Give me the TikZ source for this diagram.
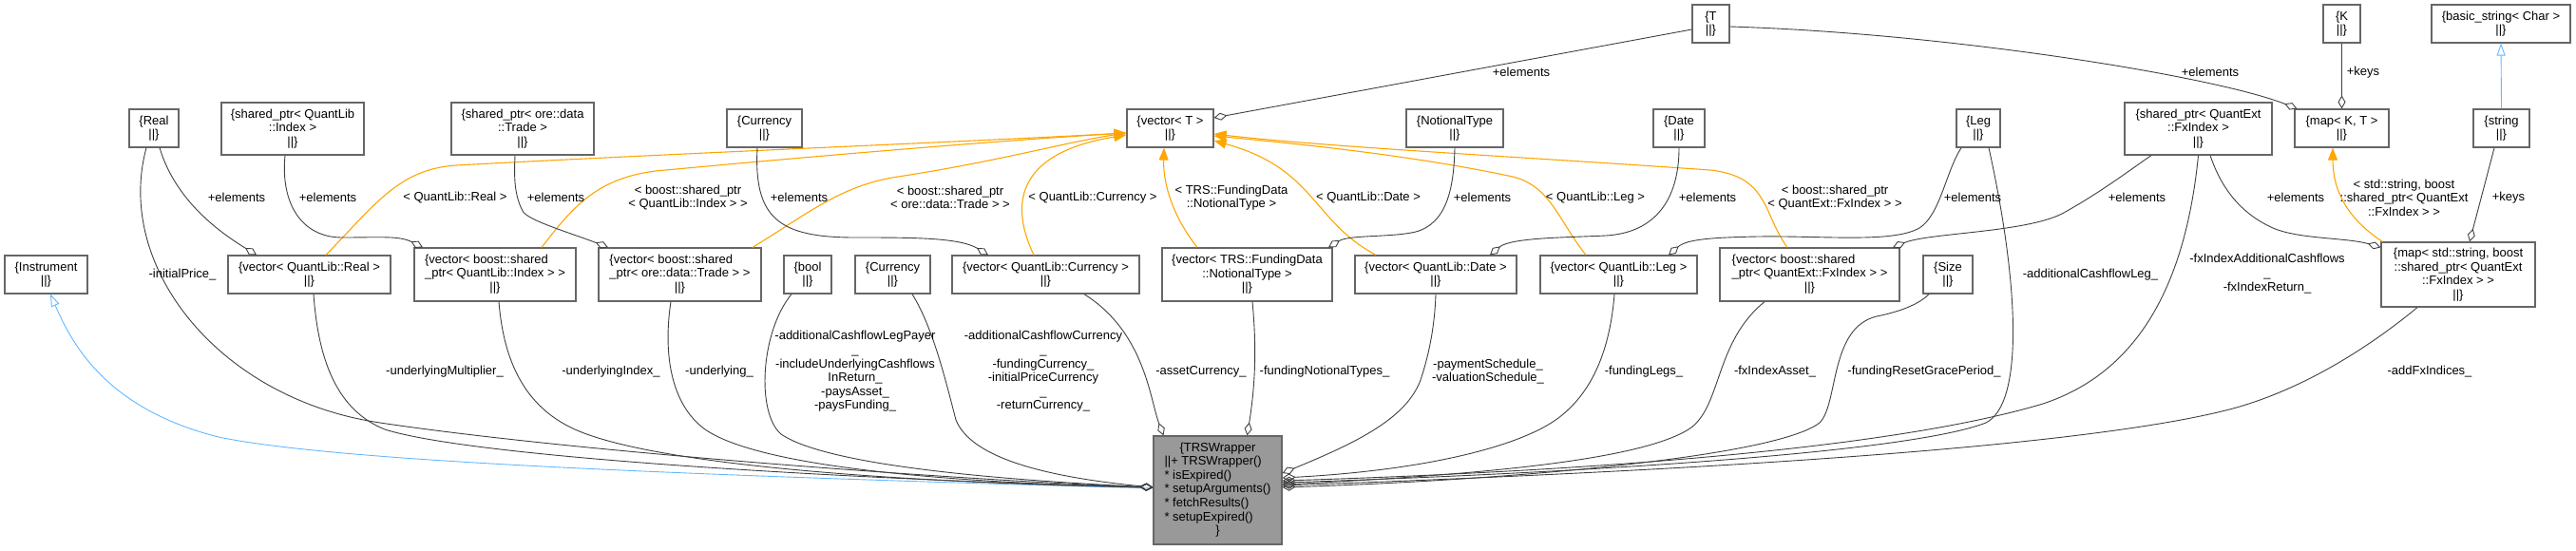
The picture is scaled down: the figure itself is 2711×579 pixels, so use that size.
\documentclass[tikz,border=0pt]{standalone}
\usepackage{fontspec}
\setmainfont{Liberation Sans}
\usetikzlibrary{arrows.meta}
\definecolor{EdgeGrey}{HTML}{404040}
\definecolor{BoxLine}{HTML}{666666}
\definecolor{MainFill}{HTML}{999999}
\definecolor{TmplOrange}{HTML}{FFA500}
\definecolor{InhBlue}{HTML}{63B8FF}
\begin{document}
\begin{tikzpicture}[x=1pt,y=-1pt,font=\fontsize{13}{14.6}\selectfont,rec/.style={draw=BoxLine,fill=white,line width=1.2pt,inner sep=0pt,align=center},lbl/.style={inner sep=0pt,align=center},member/.style={draw=EdgeGrey,line width=0.9pt,{Diamond[open,length=14pt,width=8pt]}-},tmpl/.style={draw=TmplOrange,line width=1.1pt,-{Triangle[length=13pt,width=10pt]}},inherit/.style={draw=InhBlue,line width=0.9pt,-{Triangle[open,length=13pt,width=9pt]}}]
\useasboundingbox (0,0) rectangle (2711,579);
\foreach \n/\x/\y/\w/\h/\lab in {
 tT/1800.5/25/39/40/{T},
 tK/2464.5/25/39/40/{K},
 basicStr/2632/25/146/40/{basic\_string< Char >},
 real/162/135/52/40/{Real},
 qlIdxPtr/308/135.5/150/55/{shared\_ptr< QuantLib\\::Index >},
 tradePtr/550/135.5/150/55/{shared\_ptr< ore::data\\::Trade >},
 ccyTop/804.5/135/79/40/{Currency},
 vecT/1231.5/135/91/40/{vector< T >},
 notional/1531/135/102/40/{NotionalType},
 date/1767/135/54/40/{Date},
 leg/2082/135/46/40/{Leg},
 fxPtr/2313.5/135.5/155/55/{shared\_ptr< QuantExt\\::FxIndex >},
 mapKT/2464.5/135/99/40/{map< K, T >},
 str/2632.5/135/59/40/{string},
 instrument/48.5/289/87/40/{Instrument},
 vecReal/325.5/289/171/40/{vector< QuantLib::Real >},
 boolN/850/289/50/40/{bool},
 ccyBot/939.5/289/79/40/{Currency},
 vecCcy/1100.5/289/197/40/{vector< QuantLib::Currency >},
 vecNotional/1312.5/289/179/56/{vector< TRS::FundingData\\::NotionalType >},
 vecDate/1511/289/170/40/{vector< QuantLib::Date >},
 vecLeg/1703.5/289/165/40/{vector< QuantLib::Leg >},
 sizeN/2050/289/52/40/{Size},
 mapFx/2587/289/162/68/{map< std::string, boost\\::shared\_ptr< QuantExt\\::FxIndex > >}}{
\node[rec,minimum width=\w pt,minimum height=\h pt] (\n) at (\x,\y){\{\lab\\||\}};}
\node[rec,minimum width=170pt,minimum height=56pt] (vecIdx) at (521,289){\begin{tabular}{@{}l@{}}\{vector< boost::shared\\\_ptr< QuantLib::Index > >\\\multicolumn{1}{@{}c@{}}{||\}}\end{tabular}};
\node[rec,minimum width=171pt,minimum height=56pt] (vecTrade) at (715.5,289){\begin{tabular}{@{}l@{}}\{vector< boost::shared\\\_ptr< ore::data::Trade > >\\\multicolumn{1}{@{}c@{}}{||\}}\end{tabular}};
\node[rec,minimum width=189pt,minimum height=56pt] (vecFx) at (1904.5,289){\begin{tabular}{@{}l@{}}\{vector< boost::shared\\\_ptr< QuantExt::FxIndex > >\\\multicolumn{1}{@{}c@{}}{||\}}\end{tabular}};
\node[rec,fill=MainFill,minimum width=135pt,minimum height=114pt] (trs) at (1281.5,516){\begin{tabular}{@{}l@{}}\multicolumn{1}{@{}c@{}}{\{TRSWrapper}\\||+ TRSWrapper()\\{*} isExpired()\\{*} setupArguments()\\{*} fetchResults()\\{*} setupExpired()\\\multicolumn{1}{@{}c@{}}{\}}\end{tabular}};
\draw[inherit] (str.north) -- (basicStr.south);
\draw[inherit] ([yshift=2pt]trs.west) .. controls (700,500) and (350,485) .. (230,460) .. controls (110,430) and (75,360) .. ([xshift=4.5pt]instrument.south);
\draw[tmpl] ([xshift=17.5pt]vecReal.north) .. controls (395,215) and (420,178) .. (480,174) .. controls (700,162) and (1000,150) .. ([yshift=-5pt]vecT.west);
\draw[tmpl] ([xshift=49pt]vecIdx.north) .. controls (600,222) and (625,188) .. (690,180) .. controls (850,165) and (1050,148) .. ([yshift=-5pt]vecT.west);
\draw[tmpl] ([xshift=76.5pt]vecTrade.north) .. controls (850,225) and (885,195) .. (945,186) .. controls (1050,170) and (1120,150) .. ([yshift=-5pt]vecT.west);
\draw[tmpl] ([xshift=-12.5pt]vecCcy.north) .. controls (1060,210) and (1075,160) .. ([yshift=-7pt]vecT.west);
\draw[tmpl] ([xshift=-52.5pt]vecNotional.north) .. controls (1232,225) and (1224,190) .. ([xshift=-6.5pt]vecT.south);
\draw[tmpl] ([xshift=-63pt]vecDate.north) .. controls (1380,232) and (1385,178) .. ([yshift=-13pt]vecT.east);
\draw[tmpl] ([xshift=-34.5pt]vecLeg.north) .. controls (1640,232) and (1632,196) .. (1592,186) .. controls (1480,162) and (1350,150) .. ([yshift=-8pt]vecT.east);
\draw[tmpl] ([xshift=-23.5pt]vecFx.north) .. controls (1855,225) and (1862,186) .. (1800,179) .. controls (1600,165) and (1400,155) .. ([yshift=-6pt]vecT.east);
\draw[tmpl] ([xshift=2pt]mapFx.north west) .. controls (2470,230) and (2455,200) .. ([xshift=-9.5pt]mapKT.south);
\draw[member] ([xshift=-55.5pt]vecReal.north) .. controls (232,245) and (185,212) .. ([xshift=6pt]real.south);
\draw[member] ([xshift=-76pt]vecIdx.north) .. controls (420,248) and (400,250) .. (360,250) .. controls (318,250) and (295,215) .. ([xshift=-8pt]qlIdxPtr.south);
\draw[member] ([xshift=-75.5pt]vecTrade.north) .. controls (600,245) and (555,232) .. (550,222) .. controls (541,205) and (541,185) .. ([xshift=-8pt]tradePtr.south);
\draw[member] ([xshift=-60.5pt]vecCcy.north) .. controls (1010,250) and (960,250) .. (900,250) .. controls (820,250) and (793,230) .. ([xshift=-7.5pt]ccyTop.south);
\draw[member] ([xshift=85.5pt]vecNotional.north) .. controls (1420,247) and (1465,250) .. (1490,244) .. controls (1522,235) and (1530,200) .. (notional.south);
\draw[member] ([xshift=57pt]vecDate.north) .. controls (1590,250) and (1650,250) .. (1690,248) .. controls (1742,245) and (1767,210) .. (date.south);
\draw[member] ([xshift=52.5pt]vecLeg.north) .. controls (1775,252) and (1800,250) .. (1850,249) .. controls (1920,248) and (1992,256) .. (2020,240) .. controls (2042,226) and (2048,180) .. ([xshift=-18pt]leg.south);
\draw[member] ([xshift=87.5pt]vecFx.north) .. controls (2030,245) and (2130,245) .. (2170,225) .. controls (2210,203) and (2240,180) .. ([xshift=-49.5pt]fxPtr.south);
\draw[member] ([yshift=-6pt]mapFx.north west) .. controls (2470,250) and (2420,252) .. (2392,240) .. controls (2352,222) and (2335,190) .. ([xshift=12.5pt]fxPtr.south);
\draw[member] ([xshift=12pt]mapFx.north) -- ([xshift=-7.5pt]str.south);
\draw[member] (mapKT.north) -- (tK.south);
\draw[member] ([xshift=3pt]mapKT.north west) .. controls (2330,80) and (2050,35) .. ([yshift=-3pt]tT.east);
\draw[member] ([yshift=11pt]vecT.east) -- ([yshift=-6pt]tT.west);
\draw[member] ([yshift=3pt]trs.west) .. controls (1000,505) and (600,475) .. (400,445) .. controls (230,420) and (120,280) .. ([xshift=-8pt]real.south);
\draw[member] ([yshift=3pt]trs.west) .. controls (900,505) and (500,482) .. (405,452) .. controls (355,432) and (335,380) .. ([xshift=4.5pt]vecReal.south);
\draw[member] ([yshift=3pt]trs.west) .. controls (950,508) and (690,490) .. (605,452) .. controls (552,428) and (530,380) .. ([xshift=4pt]vecIdx.south);
\draw[member] ([yshift=3pt]trs.west) .. controls (1000,508) and (800,492) .. (742,452) .. controls (705,425) and (698,370) .. ([xshift=-9.5pt]vecTrade.south);
\draw[member] ([yshift=3pt]trs.west) .. controls (1050,505) and (870,490) .. (822,457) .. controls (796,435) and (800,350) .. ([xshift=-17pt]boolN.south);
\draw[member] ([yshift=3pt]trs.west) .. controls (1100,502) and (1022,482) .. (1006,442) .. controls (995,400) and (982,345) .. ([xshift=20.5pt]ccyBot.south);
\draw[member] ([xshift=-57pt]trs.north) .. controls (1210,420) and (1205,350) .. ([xshift=40.5pt]vecCcy.south);
\draw[member] ([xshift=31pt]trs.north) .. controls (1322,400) and (1322,360) .. ([xshift=5.5pt]vecNotional.south);
\draw[member] ([yshift=18pt]trs.east) .. controls (1430,465) and (1480,440) .. (1495,400) .. controls (1505,370) and (1510,340) .. (vecDate.south);
\draw[member] ([yshift=13pt]trs.east) .. controls (1500,495) and (1600,470) .. (1640,440) .. controls (1680,410) and (1695,360) .. ([xshift=-4.5pt]vecLeg.south);
\draw[member] ([yshift=6pt]trs.east) .. controls (1550,500) and (1730,485) .. (1780,450) .. controls (1812,425) and (1805,360) .. ([xshift=-47.5pt]vecFx.south);
\draw[member] ([yshift=3pt]trs.east) .. controls (1600,505) and (1870,480) .. (1915,445) .. controls (1935,425) and (1925,345) .. (1975,333) .. controls (2000,328) and (2020,320) .. ([xshift=-20pt]sizeN.south);
\draw[member] ([yshift=8pt]trs.east) .. controls (1600,500) and (2000,480) .. (2090,445) .. controls (2130,425) and (2125,300) .. ([xshift=11pt]leg.south);
\draw[member] ([yshift=10pt]trs.east) .. controls (1700,495) and (2000,470) .. (2150,425) .. controls (2250,392) and (2300,300) .. (fxPtr.south);
\draw[member] ([yshift=5pt]trs.east) .. controls (1800,495) and (2200,470) .. (2350,430) .. controls (2430,408) and (2500,360) .. ([xshift=-43pt]mapFx.south);
\node[lbl] (elVecT) at (1601,76){+elements};
\node[lbl] (elMapKT) at (2326,76){+elements};
\node[lbl] (keysK) at (2487,76){+keys};
\foreach \n/\x in {Real/249,Idx/345,Trade/585,Ccy/841,Notional/1560,Date/1797,Leg/2076,FxVec/2249,FxMap/2416}{
\node[lbl] (el\n) at (\x,208){+elements};}
\node[lbl] (keysStr) at (2640,208){+keys};
\node[lbl] (tpReal) at (479,208){< QuantLib::Real >};
\node[lbl] (tpIdx) at (724,208){< boost::shared\_ptr\\< QuantLib::Index > >};
\node[lbl] (tpTrade) at (1000,208){< boost::shared\_ptr\\< ore::data::Trade > >};
\node[lbl] (tpCcy) at (1150,208){< QuantLib::Currency >};
\node[lbl] (tpNotional) at (1296,208){< TRS::FundingData\\::NotionalType >};
\node[lbl] (tpDate) at (1440,208){< QuantLib::Date >};
\node[lbl] (tpLeg) at (1679,208){< QuantLib::Leg >};
\node[lbl] (tpFx) at (1931,208){< boost::shared\_ptr\\< QuantExt::FxIndex > >};
\node[lbl] (tpMap) at (2530,208){< std::string, boost\\::shared\_ptr< QuantExt\\::FxIndex > >};
\node[lbl] (mInitialPrice) at (192,289){-initialPrice\_};
\node[lbl] (mAddLeg) at (2200,289){-additionalCashflowLeg\_};
\node[lbl] (mFxAdd) at (2386,288){-fxIndexAdditionalCashflows\\\_\\-fxIndexReturn\_};
\node[lbl] (mMultiplier) at (468,391){-underlyingMultiplier\_};
\node[lbl] (mIndex) at (643,391){-underlyingIndex\_};
\node[lbl] (mUnderlying) at (757,391){-underlying\_};
\node[lbl] (mFlags) at (900,391){-additionalCashflowLegPayer\\\_\\-includeUnderlyingCashflows\\InReturn\_\\-paysAsset\_\\-paysFunding\_};
\node[lbl] (mCurrencies) at (1098,391){-additionalCashflowCurrency\\\_\\-fundingCurrency\_\\-initialPriceCurrency\\\_\\-returnCurrency\_};
\node[lbl] (mAssetCcy) at (1264,391){-assetCurrency\_};
\node[lbl] (mNotionalTypes) at (1394,391){-fundingNotionalTypes\_};
\node[lbl] (mSchedules) at (1566,391){-paymentSchedule\_\\-valuationSchedule\_};
\node[lbl] (mLegs) at (1730,391){-fundingLegs\_};
\node[lbl] (mFxAsset) at (1868,391){-fxIndexAsset\_};
\node[lbl] (mGrace) at (2025,391){-fundingResetGracePeriod\_};
\node[lbl] (mAddFx) at (2557,391){-addFxIndices\_};
\end{tikzpicture}
\end{document}
